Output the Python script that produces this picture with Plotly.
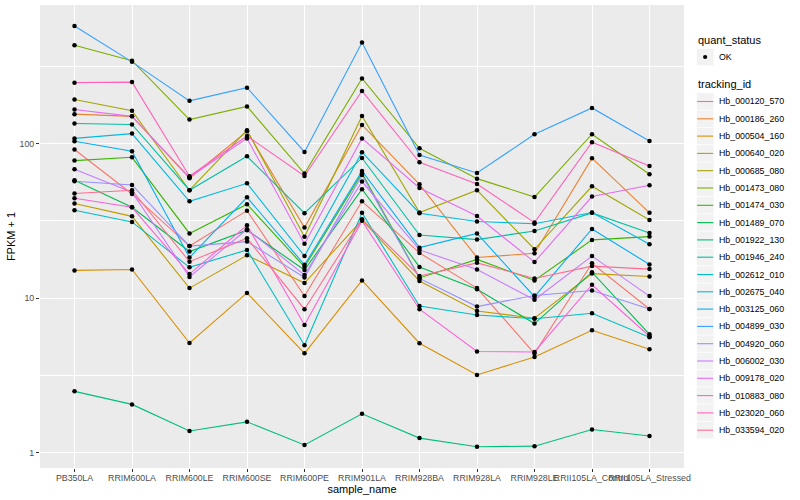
import plotly.graph_objects as go

samples = ["PB350LA", "RRIM600LA", "RRIM600LE", "RRIM600SE", "RRIM600PE", "RRIM901LA",
           "RRIM928BA", "RRIM928LA", "RRIM928LE", "RRII105LA_Control", "RRII105LA_Stressed"]

# FPKM + 1 values
hb_000120_570 = [91.5, 47.2, 21.7, 36.8, 10.3, 42.3, 19.6, 11.6, 4.37, 16.8, 8.5]
hb_000186_260 = [155, 150, 59.6, 120, 28.6, 132, 54.5, 18.3, 19.5, 80.4, 35.6]
hb_000504_160 = [15.1, 15.3, 5.12, 10.8, 4.39, 13.0, 5.10, 3.18, 4.16, 6.19, 4.66]
hb_000640_020 = [40.9, 33.8, 11.6, 18.9, 12.5, 32.0, 12.9, 8.25, 7.40, 14.4, 13.8]
hb_000685_080 = [193, 163, 49.9, 122, 24.9, 151, 35.8, 49.9, 20.7, 52.9, 32.0]
hb_001473_080 = [433, 344, 143, 174, 64.0, 264, 93.3, 59.3, 45.1, 115, 63.3]
hb_001474_030 = [77.6, 81.5, 26.2, 40.5, 15.9, 64.3, 13.5, 17.8, 13.0, 23.8, 25.0]
hb_001489_070 = [57.9, 38.7, 20.0, 27.5, 15.2, 50.6, 15.9, 11.4, 6.84, 14.7, 5.83]
hb_001922_130 = [2.49, 2.05, 1.38, 1.58, 1.12, 1.78, 1.24, 1.09, 1.10, 1.41, 1.28]
hb_001946_240 = [135, 133, 49.9, 82.8, 35.4, 80.7, 25.6, 23.9, 27.2, 35.6, 26.4]
hb_002612_010 = [37.0, 31.1, 15.8, 20.5, 4.95, 35.6, 8.89, 7.77, 7.35, 7.97, 5.58]
hb_002675_040 = [108, 116, 42.3, 55.3, 18.7, 87.9, 35.4, 31.3, 30.3, 35.8, 22.3]
hb_003125_060 = [103.5, 89.2, 18.3, 44.9, 16.4, 66.5, 21.2, 26.2, 10.2, 28.0, 16.5]
hb_004899_030 = [577, 338, 189, 230, 88.3, 451, 84.4, 64.5, 115, 170, 104]
hb_004920_060 = [57.0, 54.0, 21.7, 23.2, 13.6, 62.6, 13.4, 8.81, 10.4, 11.2, 8.5]
hb_006002_030 = [68.2, 48.4, 13.7, 27.9, 14.1, 56.8, 20.5, 15.3, 9.75, 18.7, 10.3]
hb_009178_020 = [166, 150, 60.5, 108, 22.5, 108, 51.6, 34.0, 17.1, 45.4, 53.7]
hb_010883_080 = [44.3, 38.7, 14.3, 29.6, 6.70, 31.6, 8.47, 4.51, 4.48, 12.2, 5.66]
hb_023020_060 = [248, 250, 61.4, 112, 61.7, 219, 75.7, 54.8, 30.8, 102, 71.6]
hb_033594_020 = [47.5, 49.9, 17.2, 24.4, 8.47, 32.4, 13.9, 16.9, 13.4, 16.1, 15.4]

tracking_ids = ["Hb_000120_570", "Hb_000186_260", "Hb_000504_160", "Hb_000640_020",
                "Hb_000685_080", "Hb_001473_080", "Hb_001474_030", "Hb_001489_070",
                "Hb_001922_130", "Hb_001946_240", "Hb_002612_010", "Hb_002675_040",
                "Hb_003125_060", "Hb_004899_030", "Hb_004920_060", "Hb_006002_030",
                "Hb_009178_020", "Hb_010883_080", "Hb_023020_060", "Hb_033594_020"]
series = [hb_000120_570, hb_000186_260, hb_000504_160, hb_000640_020, hb_000685_080,
          hb_001473_080, hb_001474_030, hb_001489_070, hb_001922_130, hb_001946_240,
          hb_002612_010, hb_002675_040, hb_003125_060, hb_004899_030, hb_004920_060,
          hb_006002_030, hb_009178_020, hb_010883_080, hb_023020_060, hb_033594_020]
colors = ["#F8766D", "#EA8331", "#D89000", "#C09B00", "#A3A500", "#7CAE00", "#39B600",
          "#00BB4E", "#00BF7D", "#00C1A3", "#00BFC4", "#00BAE0", "#00B0F6", "#35A2FF",
          "#9590FF", "#C77CFF", "#E76BF3", "#FA62DB", "#FF62BC", "#FF6C91"]
quant_status = ["OK"]
y_ticks = [1, 10, 100]
y_minor = [3.162, 31.62, 316.2]

FONT = "Liberation Sans, Arial, sans-serif"
W, H = 800, 500
ML, MR, MT, MB = 40, 116, 5, 32
PW, PH = W - ML - MR, H - MT - MB


def px(x):
    return (x - ML) / PW


def py(y):
    return (H - MB - y) / PH


fig = go.Figure()

for name, vals, col in zip(tracking_ids, series, colors):
    fig.add_trace(go.Scatter(
        x=samples, y=vals, mode="lines", name=name, showlegend=False,
        line=dict(color=col, width=1.1),
    ))

all_x = [s for vals in series for s in samples]
all_y = [v for vals in series for v in vals]
fig.add_trace(go.Scatter(
    x=all_x, y=all_y, mode="markers", name=quant_status[0], showlegend=False,
    marker=dict(color="black", size=4.5),
))

# ggplot-style legends (keys drawn in paper space)
shapes = []
annots = []
KEY_X0, KEY = 696.5, 17.3
TEXT_X = 716.5


def title(text, yc):
    annots.append(dict(x=px(695.5), y=py(yc), xref="paper", yref="paper", text=text,
                       showarrow=False, xanchor="left", yanchor="middle",
                       font=dict(size=11, color="black", family=FONT)))


def key_box(yc):
    shapes.append(dict(type="rect", xref="paper", yref="paper",
                       x0=px(KEY_X0), x1=px(KEY_X0 + KEY),
                       y0=py(yc - KEY / 2), y1=py(yc + KEY / 2),
                       fillcolor="#F2F2F2", line=dict(color="white", width=0.6), layer="above"))


def key_text(text, yc):
    annots.append(dict(x=px(TEXT_X), y=py(yc), xref="paper", yref="paper", text=text,
                       showarrow=False, xanchor="left", yanchor="middle",
                       font=dict(size=8.8, color="black", family=FONT)))


title("quant_status", 40)
for j, q in enumerate(quant_status):
    yc = 57 + j * KEY
    key_box(yc)
    cx = KEY_X0 + KEY / 2
    shapes.append(dict(type="circle", xref="paper", yref="paper",
                       x0=px(cx - 2.1), x1=px(cx + 2.1), y0=py(yc + 2.1), y1=py(yc - 2.1),
                       fillcolor="black", line=dict(color="black", width=0), layer="above"))
    key_text(q, yc)

title("tracking_id", 84.5)
for j, (name, col) in enumerate(zip(tracking_ids, colors)):
    yc = 101.5 + j * KEY
    key_box(yc)
    shapes.append(dict(type="line", xref="paper", yref="paper",
                       x0=px(KEY_X0 + 0.6), x1=px(KEY_X0 + KEY - 0.6), y0=py(yc), y1=py(yc),
                       line=dict(color=col, width=1.1), layer="above"))
    key_text(name, yc)

fig.update_layout(
    width=W, height=H,
    margin=dict(l=ML, r=MR, t=MT, b=MB),
    paper_bgcolor="white", plot_bgcolor="#EBEBEB",
    font=dict(family=FONT, size=9, color="black"),
    showlegend=False, shapes=shapes, annotations=annots,
)
fig.update_xaxes(
    type="category", categoryorder="array", categoryarray=samples,
    range=[-0.6, 10.6], showgrid=True, gridcolor="white", gridwidth=1.07,
    zeroline=False, tickangle=0, ticks="outside", ticklen=3, tickcolor="#333333",
    tickfont=dict(size=8.8, color="#4D4D4D"), ticklabelstandoff=-2,
    title=dict(text="sample_name", font=dict(size=11, color="black"), standoff=2),
)
fig.update_yaxes(
    type="log", range=[-0.1, 2.897], tickmode="array", tickvals=y_ticks,
    ticktext=[str(t) for t in y_ticks], showgrid=True, gridcolor="white", gridwidth=1.07,
    minor=dict(tickmode="array", tickvals=y_minor, showgrid=True, gridcolor="white",
               gridwidth=0.55, ticks=""),
    zeroline=False, ticks="outside", ticklen=3, tickcolor="#333333",
    tickfont=dict(size=8.8, color="#4D4D4D"),
    title=dict(text="FPKM + 1", font=dict(size=11, color="black"), standoff=1),
)

fig.write_html("out.html", config={"displayModeBar": False},
               post_script="document.body.style.margin='0px';")
